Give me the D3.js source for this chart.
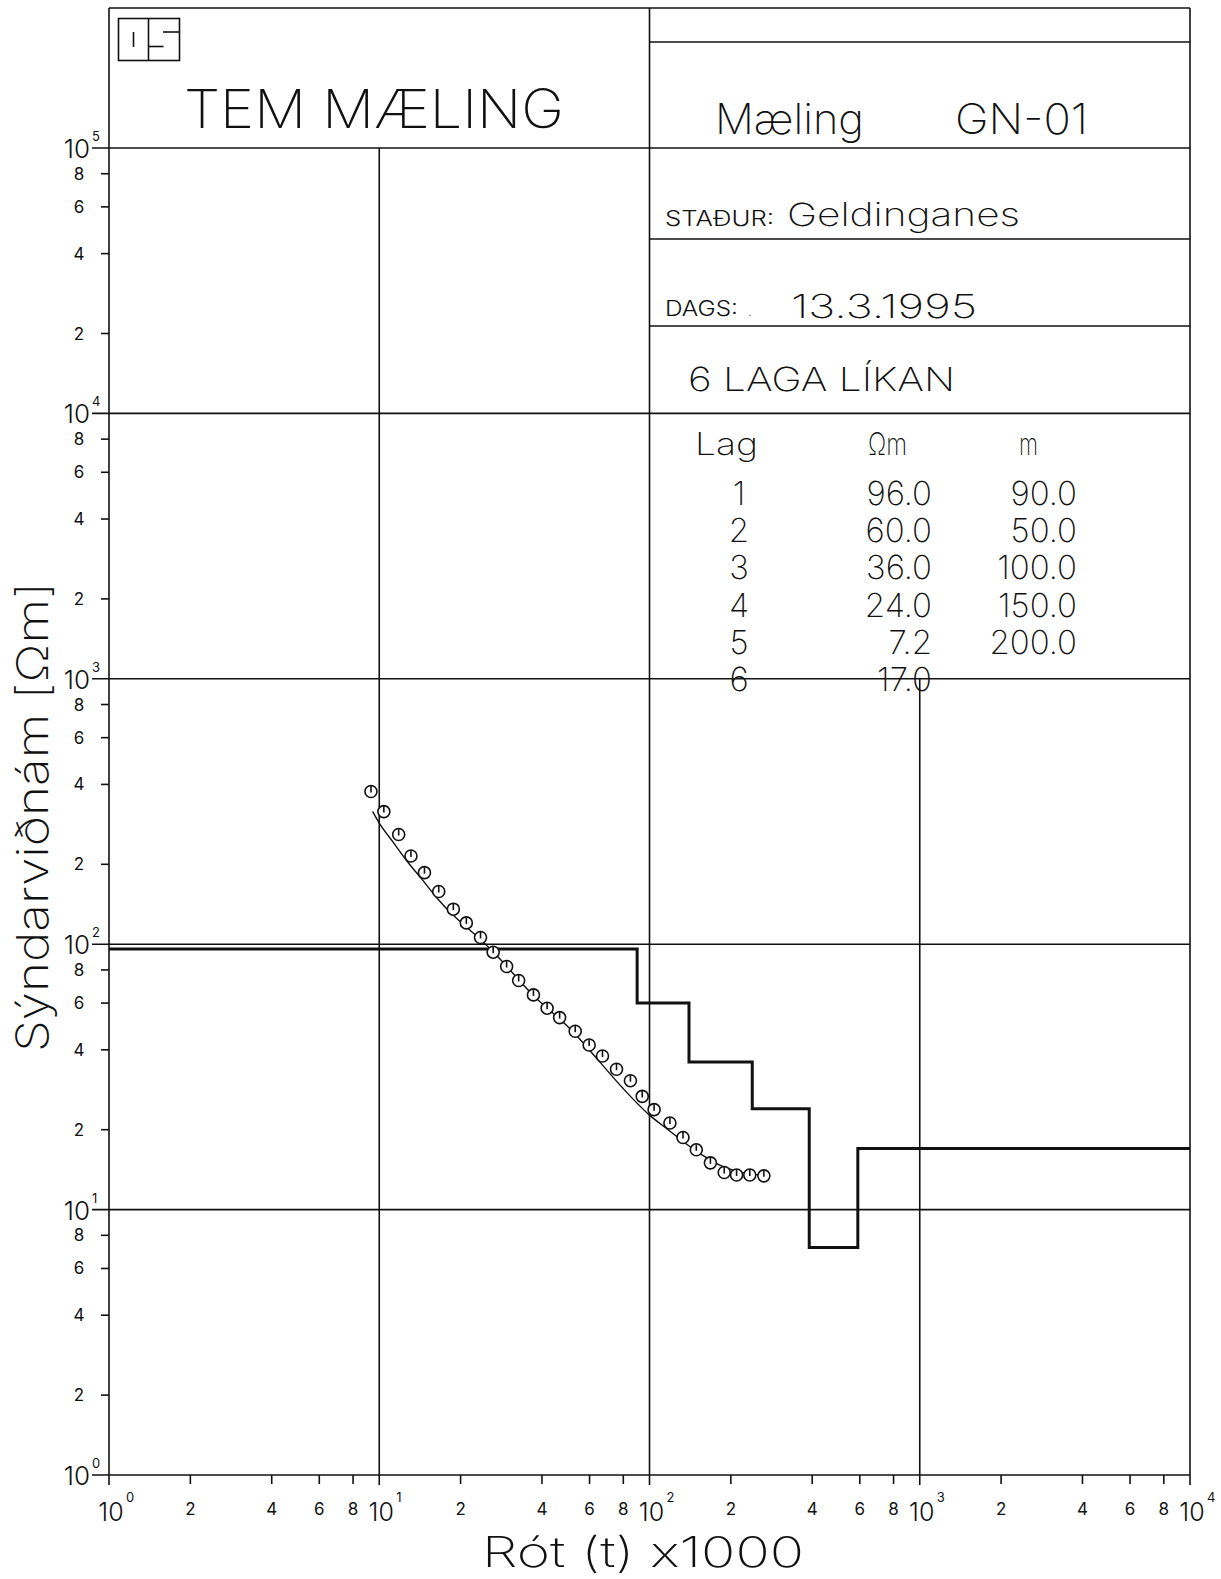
<!DOCTYPE html>
<html><head><meta charset="utf-8">
<script src="https://cdn.jsdelivr.net/npm/d3@7"></script>
<style>
html,body{margin:0;padding:0;background:#fff;}
svg{display:block;}
text{font-family:"DejaVu Sans ExtraLight",Inter,"DejaVu Sans",sans-serif;font-weight:200;fill:#111;}
text.tk{font-family:Inter,"DejaVu Sans",sans-serif;font-weight:400;}
text.dec{font-family:Inter,"DejaVu Sans",sans-serif;font-weight:300;}
</style></head><body>
<svg id="c" width="1221" height="1579"></svg>
<script>
// ---------- data ----------
const layerNumbers = [1, 2, 3, 4, 5, 6];
const layerResistivity = [96.0, 60.0, 36.0, 24.0, 7.2, 17.0];
const layerThickness = [90.0, 50.0, 100.0, 150.0, 200.0];
const measuredTime = [9.32, 10.4, 11.8, 13.1, 14.7, 16.6, 18.8, 21.0, 23.7, 26.4, 29.6, 32.8, 37.2, 41.8, 46.5, 53.1, 59.8, 67.0, 75.5, 85.0, 94.0, 104, 119, 133, 149, 168, 189, 210, 235, 265];
const measuredRho = [376, 316, 259, 215, 186, 158, 135.5, 120.3, 106, 93.3, 82.4, 73.0, 64.4, 57.4, 52.9, 47.0, 41.7, 37.9, 33.8, 30.6, 26.7, 23.8, 21.2, 18.7, 16.8, 15.0, 13.8, 13.5, 13.5, 13.4];
const fitTime = [9.45, 10, 11.2, 12.7, 14.3, 16.2, 18.7, 20.9, 23.8, 26.7, 37.0, 52.0, 65.3, 79.6, 100, 115, 149, 182, 228, 262];
const fitRho = [316, 286, 244, 205, 177, 151, 129, 116.6, 103.8, 92.5, 64.4, 46.9, 36.1, 28.7, 22.7, 20.3, 16.6, 14.7, 13.7, 13.5];
const xDecades = [1, 10, 100, 1000, 10000];
const yDecades = [1, 10, 100, 1000, 10000, 100000];
const minorMultipliers = [2, 4, 6, 8];
const tableHeader = ["Lag", "Ωm", "m"];

// ---------- layout ----------
const svg = d3.select("#c");
const ink = "#111";
const X0 = 109, X1 = 1190, Y0 = 1475, Y5 = 148, TOP = 8;
const x = d3.scaleLog().domain([1, 1e4]).range([X0, X1]);
const y = d3.scaleLog().domain([1, 1e5]).range([Y0, Y5]);

function line(x1, y1, x2, y2, w) {
  svg.append("line").attr("x1", x1).attr("y1", y1).attr("x2", x2).attr("y2", y2)
    .attr("stroke", ink).attr("stroke-width", w || 1.6);
}
function txt(s, px, py, size, opts) {
  opts = opts || {};
  const t = svg.append("text").attr("x", px).attr("y", py).attr("font-size", size).text(s);
  if (opts.len) t.attr("textLength", opts.len).attr("lengthAdjust", "spacingAndGlyphs");
  if (opts.anchor) t.attr("text-anchor", opts.anchor);
  if (opts.cls) t.attr("class", opts.cls);
  return t;
}

// ---------- frame & grid ----------
line(X0, TOP, X1, TOP);
line(X0, TOP, X0, Y0 + 10);
line(X1, TOP, X1, Y0 + 10);
yDecades.forEach(d => line(92, y(d), X1, y(d)));
line(x(10), y(1e5), x(10), Y0 + 10);
line(x(100), TOP, x(100), Y0 + 10);
line(x(1000), y(1000), x(1000), Y0 + 10);
[42, 239, 326].forEach(v => line(x(100), v, X1, v));

// ---------- y axis ticks & labels ----------
yDecades.forEach((d, i) => {
  txt("10", 90, y(d) + 10, 26, {anchor: "end", cls: "dec"});
  txt(String(i), 92, y(d) - 7, 13, {cls: "tk"});
  if (d < 1e5) minorMultipliers.forEach(m => {
    const v = d * m;
    line(X0 - 8, y(v), X0, y(v));
    txt(String(m), 79, y(v) + 6, 17, {anchor: "middle", cls: "tk"});
  });
});

// ---------- x axis ticks & labels ----------
xDecades.forEach((d, i) => {
  txt("10", x(d) + 2, Y0 + 46, 25, {anchor: "middle", cls: "dec"});
  txt(String(i), x(d) + 17, Y0 + 27, 13, {cls: "tk"});
  if (d < 1e4) minorMultipliers.forEach(m => {
    const v = d * m;
    line(x(v), Y0, x(v), Y0 + 9);
    txt(String(m), x(v), Y0 + 40, 17, {anchor: "middle", cls: "tk"});
  });
});

// ---------- axis titles ----------
txt("Rót (t) x1000", 482, 1567, 42, {len: 322});
svg.append("text").attr("transform", "translate(48,1052) rotate(-90)")
  .attr("font-size", 44).attr("textLength", 470).attr("lengthAdjust", "spacingAndGlyphs")
  .text("Sýndarviðnám [Ωm]");

// ---------- header ----------
svg.append("rect").attr("x", 118.5).attr("y", 18.5).attr("width", 61).attr("height", 42)
  .attr("fill", "none").attr("stroke", ink).attr("stroke-width", 1.6);
line(148.5, 18.5, 148.5, 60.5);
line(133.5, 32, 133.5, 47);
line(163, 32, 179, 32);
line(149, 46.5, 163.5, 46.5);

txt("TEM MÆLING", 184, 128, 54, {len: 380});
txt("Mæling", 715, 134, 42, {len: 149});
txt("GN-01", 955, 134, 42, {len: 133});
txt("STAÐUR:", 665, 226, 21, {len: 109, cls: "dec"});
txt("Geldinganes", 787, 226, 32, {len: 233});
txt("DAGS:", 665, 316, 21, {len: 73, cls: "dec"});
txt(".", 748, 316, 14);
txt("13.3.1995", 791, 318, 33, {len: 186});
txt("6  LAGA  LÍKAN", 688, 391, 33, {len: 267});

// ---------- layer table ----------
txt(tableHeader[0], 695, 455, 31, {len: 63});
txt(tableHeader[1], 868, 455, 31, {len: 39});
txt(tableHeader[2], 1019, 455, 31, {len: 19});
const rowY = d3.scaleLinear().domain([1, 6]).range([505, 691]);
layerNumbers.forEach((n, i) => {
  txt(String(n), 739, rowY(n), 33, {anchor: "middle"});
  txt(layerResistivity[i].toFixed(1), 932, rowY(n), 33, {anchor: "end"});
  if (i < layerThickness.length)
    txt(layerThickness[i].toFixed(1), 1077, rowY(n), 33, {anchor: "end"});
});

// ---------- model step curve ----------
const depths = d3.cumsum(layerThickness);
const stepPts = [[1, layerResistivity[0]]];
depths.forEach((dp, i) => stepPts.push([dp, layerResistivity[i + 1]]));
stepPts.push([1e4, layerResistivity[layerResistivity.length - 1]]);
svg.append("path")
  .attr("d", d3.line().x(d => x(d[0])).y(d => y(d[1])).curve(d3.curveStepAfter)(stepPts))
  .attr("fill", "none").attr("stroke", ink).attr("stroke-width", 3);

// ---------- fit curve ----------
const fitPts = fitTime.map((t, i) => [t, fitRho[i]]);
svg.append("path")
  .attr("d", d3.line().x(d => x(d[0])).y(d => y(d[1])).curve(d3.curveMonotoneX)(fitPts))
  .attr("fill", "none").attr("stroke", ink).attr("stroke-width", 1.4);

// ---------- measured points ----------
const pts = svg.append("g");
measuredTime.forEach((t, i) => {
  const g = pts.append("g").attr("transform", `translate(${x(t)},${y(measuredRho[i])})`);
  g.append("circle").attr("r", 6).attr("fill", "#fff").attr("stroke", ink).attr("stroke-width", 1.6);
  g.append("line").attr("x1", 0).attr("y1", -5.5).attr("x2", 0).attr("y2", 1)
    .attr("stroke", ink).attr("stroke-width", 1.6);
});
</script>
</body></html>
